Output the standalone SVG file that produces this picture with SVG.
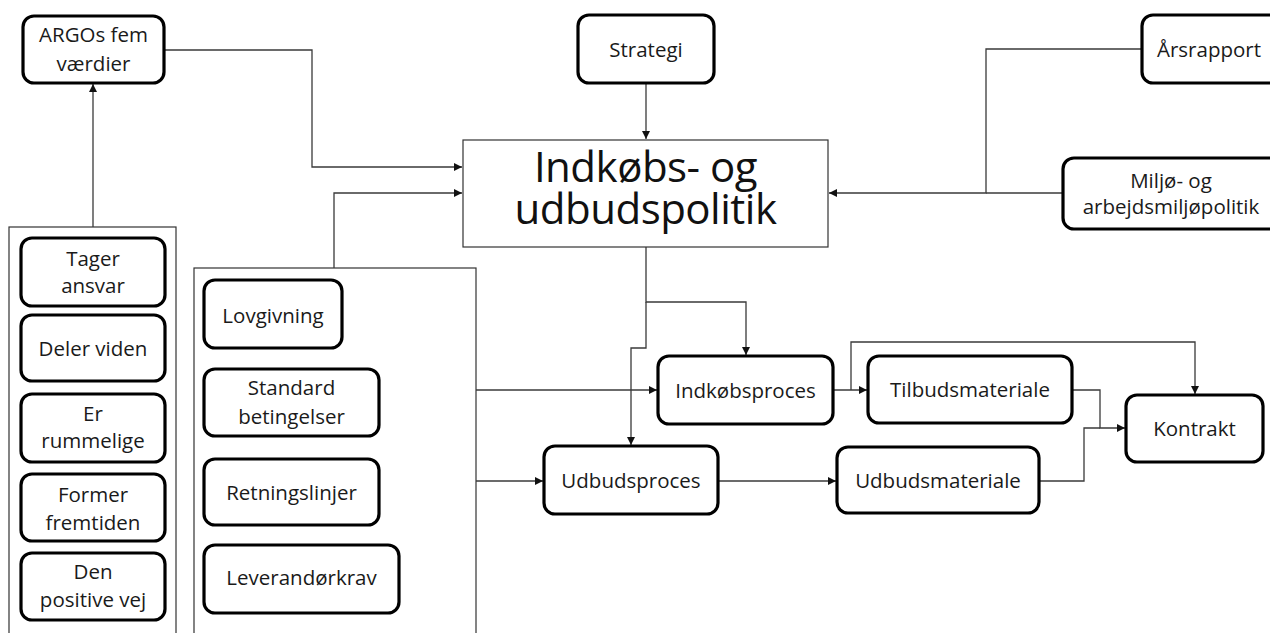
<svg xmlns="http://www.w3.org/2000/svg" width="1270" height="633" viewBox="0 0 1270 633">
<style>
.bg{fill:#fff}
.rb{fill:#fff;stroke:#000;stroke-width:3.2}
.pb{fill:#fff;stroke:#333;stroke-width:1.2}
.t{font-family:"Open Sans","Liberation Sans",sans-serif;font-size:20.5px;fill:#1a1a1a;text-anchor:middle}
.big{font-family:"Open Sans","Liberation Sans",sans-serif;font-size:42px;fill:#111;text-anchor:middle;letter-spacing:-0.5px}
.c{fill:none;stroke:#3a3a3a;stroke-width:1.3}
</style>
<defs>
<marker id="ah" markerUnits="userSpaceOnUse" markerWidth="9" markerHeight="9" refX="8" refY="4" orient="auto">
<path d="M0,0 L8,4 L0,8 z" fill="#111"/>
</marker>
</defs>
<rect class="bg" x="0" y="0" width="1270" height="633"/>

<g id="container-values"><rect class="pb" x="9" y="227" width="167" height="420"/></g>
<g id="container-rules"><rect class="pb" x="194" y="268" width="282" height="380"/></g>

<g id="connectors">
<path class="c" d="M164,50 H312 V167 H462" marker-end="url(#ah)"/>
<path class="c" d="M93,227 V84" marker-end="url(#ah)"/>
<path class="c" d="M334,268 V193 H462" marker-end="url(#ah)"/>
<path class="c" d="M646,83 V139" marker-end="url(#ah)"/>
<path class="c" d="M1142,49 H986 V193 H829" marker-end="url(#ah)"/>
<path class="c" d="M1063,193 H986"/>
<path class="c" d="M646,247 V302 H746 V355" marker-end="url(#ah)"/>
<path class="c" d="M646,302 V348 H631 V445" marker-end="url(#ah)"/>
<path class="c" d="M476,390 H657" marker-end="url(#ah)"/>
<path class="c" d="M476,481 H543" marker-end="url(#ah)"/>
<path class="c" d="M833,390 H867" marker-end="url(#ah)"/>
<path class="c" d="M851,390 V342 H1195 V394" marker-end="url(#ah)"/>
<path class="c" d="M1072,390 H1100 V428 H1125" marker-end="url(#ah)"/>
<path class="c" d="M1039,481 H1084 V428 H1100"/>
<path class="c" d="M718,481 H836" marker-end="url(#ah)"/>
</g>

<g id="argos"><rect class="rb" x="23" y="16" width="141" height="67" rx="11"/>
<text class="t" x="93.5" y="42">ARGOs fem</text><text class="t" x="93.5" y="71">værdier</text></g>
<g id="strategi"><rect class="rb" x="578" y="15" width="136" height="68" rx="11"/>
<text class="t" x="646" y="57">Strategi</text></g>
<g id="aarsrapport"><rect class="rb" x="1142" y="15" width="140" height="68" rx="11"/>
<text class="t" x="1209" y="57">Årsrapport</text></g>
<g id="miljoe"><rect class="rb" x="1063" y="158" width="220" height="71" rx="11"/>
<text class="t" x="1171" y="188">Miljø- og</text><text class="t" x="1171" y="214">arbejdsmiljøpolitik</text></g>
<g id="politik"><rect class="pb" x="463" y="140" width="365" height="107"/>
<text class="big" x="645.5" y="182"><tspan x="645.5" y="182">Indkøbs- og</tspan><tspan x="645.5" y="224">udbudspolitik</tspan></text></g>

<g id="tager"><rect class="rb" x="21" y="238" width="144" height="68" rx="11"/>
<text class="t" x="93" y="266">Tager</text><text class="t" x="93" y="293">ansvar</text></g>
<g id="deler"><rect class="rb" x="21" y="315" width="144" height="66" rx="11"/>
<text class="t" x="93" y="356">Deler viden</text></g>
<g id="er"><rect class="rb" x="21" y="394" width="144" height="68" rx="11"/>
<text class="t" x="93" y="421">Er</text><text class="t" x="93" y="448">rummelige</text></g>
<g id="former"><rect class="rb" x="21" y="474" width="144" height="67" rx="11"/>
<text class="t" x="93" y="502">Former</text><text class="t" x="93" y="530">fremtiden</text></g>
<g id="den"><rect class="rb" x="21" y="553" width="144" height="67" rx="11"/>
<text class="t" x="93" y="579">Den</text><text class="t" x="93" y="607">positive vej</text></g>

<g id="lovgivning"><rect class="rb" x="204" y="280" width="138" height="68" rx="11"/>
<text class="t" x="273" y="323">Lovgivning</text></g>
<g id="standard"><rect class="rb" x="204" y="369" width="175" height="67" rx="11"/>
<text class="t" x="291.5" y="395">Standard</text><text class="t" x="291.5" y="424">betingelser</text></g>
<g id="retning"><rect class="rb" x="204" y="459" width="175" height="66" rx="11"/>
<text class="t" x="291.5" y="500">Retningslinjer</text></g>
<g id="leverandoer"><rect class="rb" x="204" y="545" width="195" height="68" rx="11"/>
<text class="t" x="301.5" y="585">Leverandørkrav</text></g>

<g id="indkoebsproces"><rect class="rb" x="658" y="356" width="175" height="68" rx="11"/>
<text class="t" x="745.5" y="398">Indkøbsproces</text></g>
<g id="udbudsproces"><rect class="rb" x="544" y="446" width="174" height="68" rx="11"/>
<text class="t" x="631" y="488">Udbudsproces</text></g>
<g id="tilbud"><rect class="rb" x="868" y="356" width="204" height="67" rx="11"/>
<text class="t" x="970" y="397">Tilbudsmateriale</text></g>
<g id="udbudsmat"><rect class="rb" x="837" y="447" width="202" height="66" rx="11"/>
<text class="t" x="938" y="488">Udbudsmateriale</text></g>
<g id="kontrakt"><rect class="rb" x="1126" y="395" width="137" height="67" rx="11"/>
<text class="t" x="1194.5" y="436">Kontrakt</text></g>
</svg>
